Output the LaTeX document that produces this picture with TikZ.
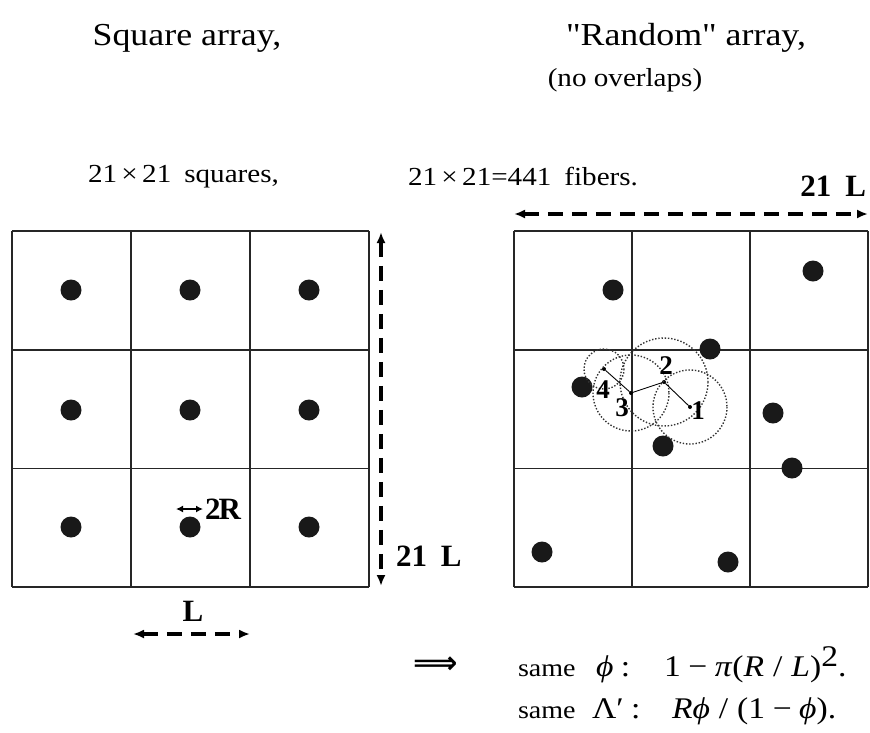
\documentclass[tikz,border=0pt]{standalone}
\usepackage{fontspec}
\setmainfont{Liberation Serif}[FakeStretch=1.12, Ligatures=TeXOff]
\newfontfamily\lblfont{Liberation Serif}
\newfontfamily\symfont{DejaVu Sans}
\usetikzlibrary{arrows.meta}

\begin{document}
\begin{tikzpicture}[x=1pt, y=-1pt,
  every node/.style={inner sep=0pt, outer sep=0pt},
  fiber/.style={circle, fill=black!90, minimum size=21pt},
  site/.style={circle, fill=black, minimum size=4pt},
  cellline/.style={line width=1.8pt, draw=black!85},
  probe/.style={line width=1.4pt, draw=black!80, dash pattern=on 1.4pt off 1.8pt},
  link/.style={line width=0.9pt},
  dimarrow/.style={{Latex[length=11pt,width=9pt]}-{Latex[length=11pt,width=9pt]},
    line width=3.2pt, dash pattern=on 15pt off 9pt},
  smallarrow/.style={{Latex[length=7pt,width=7pt]}-{Latex[length=7pt,width=7pt]}, line width=2.2pt},
  title/.style={font=\fontsize{32}{36}\selectfont},
  caption/.style={font=\fontsize{26}{30}\selectfont},
  word/.style={font=\fontsize{25}{28}\selectfont, anchor=base west},
  formula/.style={font=\fontsize{30}{34}\selectfont, anchor=base west},
  lbl/.style={font=\lblfont\fontsize{31}{34}\selectfont\bfseries},
  num/.style={font=\lblfont\fontsize{27}{30}\selectfont\bfseries}
]
\useasboundingbox (0,0) rectangle (870,732);

% --- headings
\node[title] (sqtitle) at (187,38) {Square array,};
\node[title] (rndtitle) at (686,38) {"Random" array,};
\node[caption] (nooverlap) at (625,80) {(no overlaps)};
\node[caption, anchor=west] (sqcount) at (88,177) {21\,×\,21\enspace squares,};
\node[caption, anchor=west] (fibcount) at (408,177) {21\,×\,21=441\enspace fibers.};

% --- square array
\foreach \i in {0,1,2,3} {
  \draw[cellline] (12+119*\i,231) -- (12+119*\i,587);
  \draw[cellline] (12,231+118.7*\i) -- (369,231+118.7*\i);
}
\foreach \cx/\col in {71/a,190/b,309/c}
  \foreach \cy/\row in {290/1,410/2,527/3}
    \node[fiber] (sq\col\row) at (\cx,\cy) {};

% --- random array
\foreach \i in {0,1,2,3} {
  \draw[cellline] (514+118*\i,231) -- (514+118*\i,587);
  \draw[cellline] (514,231+118.7*\i) -- (868,231+118.7*\i);
}
\node[fiber] (f1) at (613,290) {};
\node[fiber] (f2) at (813,271) {};
\node[fiber] (f3) at (710,349) {};
\node[fiber] (f4) at (582,387) {};
\node[fiber] (f5) at (773,413) {};
\node[fiber] (f6) at (663,446) {};
\node[fiber] (f7) at (792,468) {};
\node[fiber] (f8) at (542,552) {};
\node[fiber] (f9) at (728,562) {};

% trial positions
\node[site] (p1) at (690,407) {};
\node[site] (p2) at (664,382) {};
\node[site] (p3) at (631,393) {};
\node[site] (p4) at (604,369) {};
\draw[probe] (p1) circle (37);
\draw[probe] (p2) circle (44);
\draw[probe] (p3) circle (38);
\draw[probe] (p4) circle (20);
\draw[link] (p4) -- (p3) -- (p2) -- (p1);
\node[num] (n1) at (698,411) {1};
\node[num] (n2) at (666,366) {2};
\node[num] (n3) at (622,408) {3};
\node[num] (n4) at (603,390) {4};

% --- dimensions
\coordinate (vtop) at (381,232);
\coordinate (vbot) at (381,586);
\draw[dimarrow] (vtop) -- (vbot);
\node[lbl, anchor=west] (vlen) at (396,556) {21\hspace{0.45em}L};

\coordinate (hleft) at (514,214);
\coordinate (hright) at (868,214);
\draw[dimarrow] (hleft) -- (hright);
\node[lbl, anchor=east] (hlen) at (866,186) {21\hspace{0.45em}L};

\coordinate (lleft) at (133,634);
\coordinate (lright) at (250,634);
\draw[dimarrow] (lleft) -- (lright);
\node[lbl] (llen) at (193,611) {L};

\coordinate (dleft) at (176,509);
\coordinate (dright) at (203,509);
\draw[smallarrow] (dleft) -- (dright);
\node[lbl, anchor=west] (dlen) at (205,509) {2\kern-2pt R};

% --- result
\node[font=\symfont\bfseries\fontsize{31}{34}\selectfont] (implies) at (436,665) {⟹};
\node[word] (same1) at (518,676) {same};
\node[word] (same2) at (518,718) {same};
\node[formula] (phisym) at (596,676) {\textit{ϕ}\hspace{0.25em}:};
\node[formula] (lamsym) at (592,718) {Λ′\hspace{0.25em}:};
\node[formula] (phiexpr) at (664,676)
  {1\hspace{0.25em}−\hspace{0.25em}\textit{π}(\textit{R}\hspace{0.3em}/\hspace{0.3em}\textit{L})\raisebox{10pt}{2}.};
\node[formula] (lamexpr) at (672,718)
  {\textit{Rϕ}\hspace{0.3em}/\hspace{0.3em}(1\hspace{0.25em}−\hspace{0.25em}\textit{ϕ}).};
\end{tikzpicture}
\end{document}
